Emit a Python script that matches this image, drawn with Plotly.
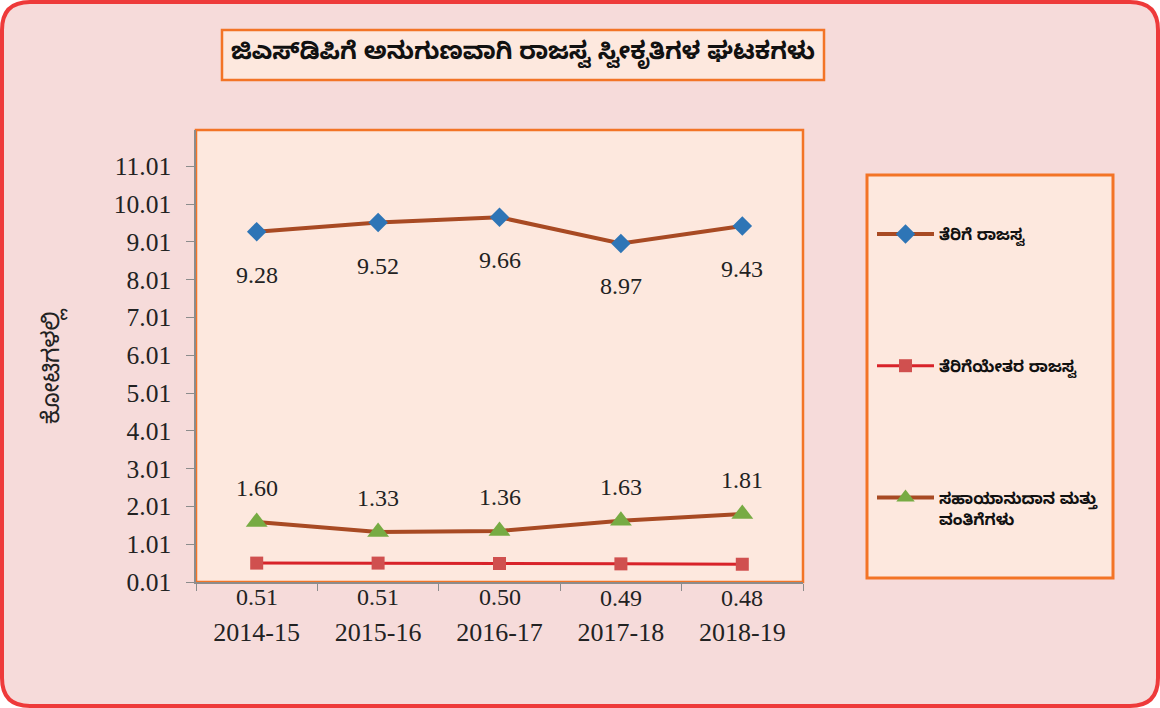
import plotly.graph_objects as go

# ---- data ----
years = ["2014-15", "2015-16", "2016-17", "2017-18", "2018-19"]
tax_revenue = [9.28, 9.52, 9.66, 8.97, 9.43]
non_tax_revenue = [0.51, 0.51, 0.50, 0.49, 0.48]
grants = [1.60, 1.33, 1.36, 1.63, 1.81]
y_ticks = [0.01, 1.01, 2.01, 3.01, 4.01, 5.01, 6.01, 7.01, 8.01, 9.01, 10.01, 11.01]

title_text = "ಜಿಎಸ್‌ಡಿಪಿಗೆ ಅನುಗುಣವಾಗಿ ರಾಜಸ್ವ ಸ್ವೀಕೃತಿಗಳ ಘಟಕಗಳು"
y_title = "ಕೋಟಿಗಳಲ್ಲಿ"
names = ["ತೆರಿಗೆ ರಾಜಸ್ವ", "ತೆರಿಗೆಯೇತರ ರಾಜಸ್ವ", "ಸಹಾಯಾನುದಾನ ಮತ್ತು<br>ವಂತಿಗೆಗಳು"]

# ---- layout geometry (pixels) ----
W, H = 1160, 708
L, R, T, B = 196, 803, 130, 582
pw, ph = R - L, B - T

def px(x):
    return (x - L) / pw

def py(y):
    return (B - y) / ph

serif = "Liberation Serif, Times New Roman, serif"
kfont = "Noto Sans Kannada, Noto Sans, sans-serif"

fig = go.Figure()
fig.add_trace(go.Scatter(
    x=years, y=tax_revenue, name=names[0], mode="lines+markers",
    line=dict(color="#A84A23", width=4),
    marker=dict(symbol="diamond", size=15, color="#2E75B6"),
    legendgroup="a"))
fig.add_trace(go.Scatter(
    x=years, y=non_tax_revenue, name=names[1], mode="lines+markers",
    line=dict(color="#D8232A", width=3),
    marker=dict(symbol="square", size=13, color="#D0504F"),
    legendgroup="b"))
fig.add_trace(go.Scatter(
    x=years, y=grants, name=names[2], mode="lines+markers",
    line=dict(color="#A84A23", width=4),
    marker=dict(symbol="triangle-up", size=19, color="#77AB43"),
    legendgroup="c"))

annotations = []
for series, shift in ((tax_revenue, -43), (non_tax_revenue, -34), (grants, 34)):
    for xv, yv in zip(years, series):
        annotations.append(dict(
            x=xv, y=yv, xref="x", yref="y", text=f"{yv:.2f}", showarrow=False,
            yshift=shift, font=dict(family=serif, size=24, color="#222222")))

# title text
annotations.append(dict(
    x=px(523), y=py(55), xref="paper", yref="paper", text=f"<b>{title_text}</b>",
    showarrow=False, font=dict(family=kfont, size=24, color="#111111"),
    xanchor="center", yanchor="middle"))
# y axis title
annotations.append(dict(
    x=px(55), y=py(366), xref="paper", yref="paper", text=y_title, textangle=-90,
    showarrow=False, font=dict(family=kfont, size=24, color="#222222"),
    xanchor="center", yanchor="middle"))

# rounded outer border path
x0, x1, y0, y1, r = 2, 1158, 2, 706, 28
def P(x, y):
    return f"{px(x)},{py(y)}"
outer = (f"M {P(x0 + r, y0)} L {P(x1 - r, y0)} Q {P(x1, y0)} {P(x1, y0 + r)} "
         f"L {P(x1, y1 - r)} Q {P(x1, y1)} {P(x1 - r, y1)} "
         f"L {P(x0 + r, y1)} Q {P(x0, y1)} {P(x0, y1 - r)} "
         f"L {P(x0, y0 + r)} Q {P(x0, y0)} {P(x0 + r, y0)} Z")

shapes = [
    dict(type="path", path=outer, xref="paper", yref="paper",
         fillcolor="#F6DBDA", line=dict(color="#EE3A3A", width=4), layer="below"),
    dict(type="rect", x0=0, x1=1, y0=0, y1=1, xref="paper", yref="paper",
         fillcolor="#FDE8DE", line=dict(color="#F37426", width=2.5), layer="below"),
    dict(type="rect", x0=px(222), x1=px(824), y0=py(80), y1=py(30), xref="paper", yref="paper",
         fillcolor="#FDE8DE", line=dict(color="#F37426", width=2.5), layer="below"),
    dict(type="rect", x0=px(867), x1=px(1113), y0=py(578), y1=py(175), xref="paper", yref="paper",
         fillcolor="#FDE8DE", line=dict(color="#F37426", width=3), layer="below"),
]

fig.update_layout(
    width=W, height=H,
    margin=dict(l=L, r=W - R, t=T, b=H - B, pad=0),
    paper_bgcolor="white",
    plot_bgcolor="rgba(0,0,0,0)",
    showlegend=True,
    legend=dict(x=px(872), y=py(217), xanchor="left", yanchor="top",
                bgcolor="rgba(0,0,0,0)", borderwidth=0,
                font=dict(family=kfont, size=16, color="#111111", weight="bold"),
                traceorder="grouped", tracegroupgap=108, valign="top",
                itemwidth=57),
    shapes=shapes,
    annotations=annotations,
    xaxis=dict(range=[-0.5, 4.5], showgrid=False, zeroline=False,
               showline=True, linecolor="#8C8C8C", linewidth=1.5,
               ticks="outside", tickson="boundaries", ticklen=7, tickcolor="#8C8C8C",
               tickfont=dict(family=serif, size=26, color="#222222"),
               ticklabelstandoff=26),
    yaxis=dict(range=[0.01, 11.97], tickvals=y_ticks, ticktext=[f"{v:.2f}" for v in y_ticks],
               showgrid=False, zeroline=False,
               showline=True, linecolor="#8C8C8C", linewidth=1.5,
               ticks="outside", ticklen=8, tickcolor="#8C8C8C",
               tickfont=dict(family=serif, size=25.5, color="#222222"),
               ticklabelstandoff=10),
)

fig.write_html("out.html", config={"displayModeBar": False},
               post_script="document.body.style.margin='0';")
